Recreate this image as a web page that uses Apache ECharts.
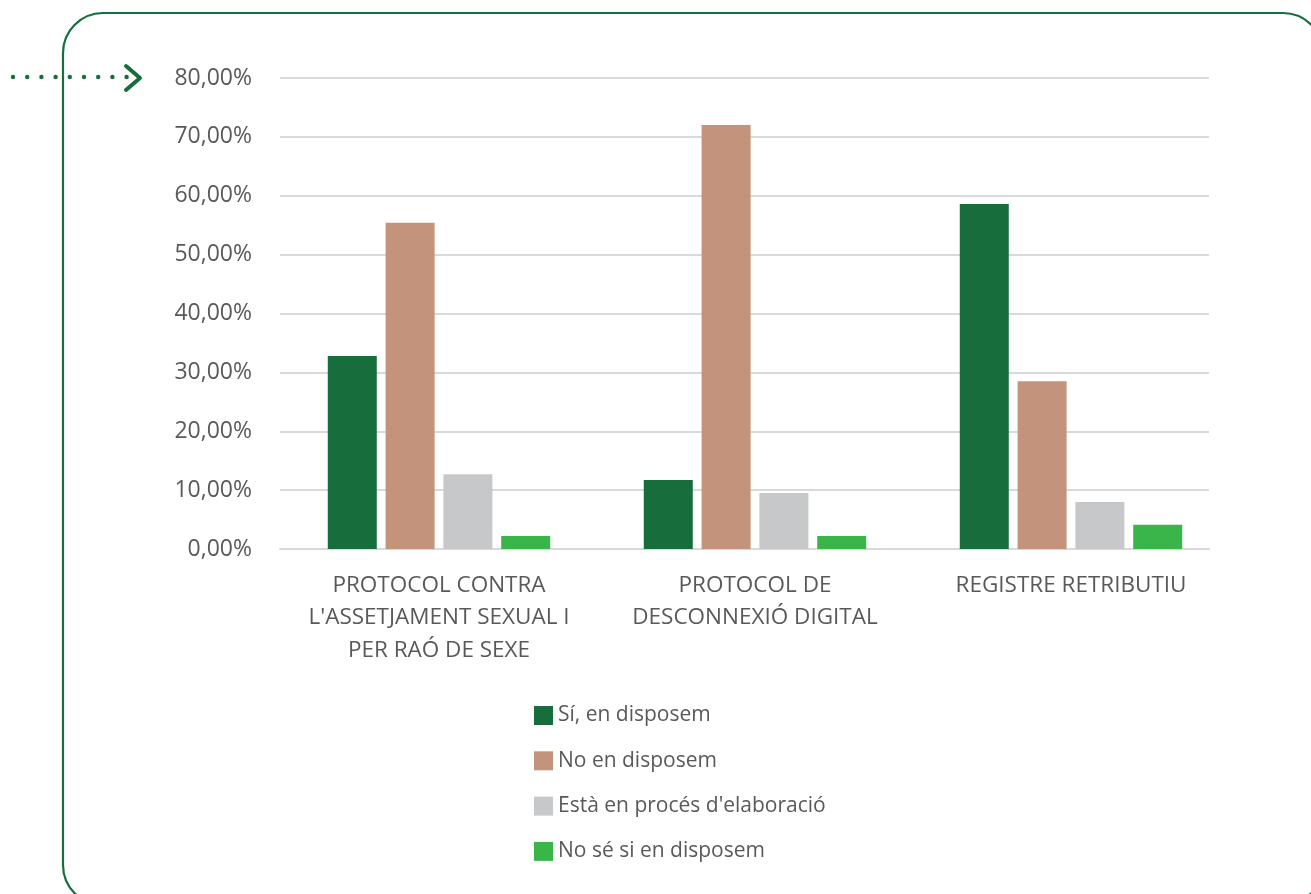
<!DOCTYPE html>
<html><head><meta charset="utf-8">
<script src="https://cdn.jsdelivr.net/npm/echarts@6/dist/echarts.min.js"></script>
<style>html,body{margin:0;padding:0;background:#fff;}#c{width:1311px;height:894px;}</style>
</head><body><div id="c"></div>
<script>
const categories = ["PROTOCOL CONTRA\nL'ASSETJAMENT SEXUAL I\nPER RAÓ DE SEXE", "PROTOCOL DE\nDESCONNEXIÓ DIGITAL", "REGISTRE RETRIBUTIU"];
const seriesNames = ["Sí, en disposem", "No en disposem", "Està en procés d'elaboració", "No sé si en disposem"];
const siValues = [32.8, 11.7, 58.6];
const noValues = [55.4, 72.0, 28.5];
const procesValues = [12.7, 9.5, 8.0];
const nosValues = [2.2, 2.2, 4.1];
const yTicks = {min: 0, max: 80, interval: 10};
const colors = ["#176d3c", "#c4937b", "#c7c8ca", "#3ab54a"];

const chart = echarts.init(document.getElementById('c'), null, {renderer: 'canvas'});
const font = "'Open Sans', sans-serif";
const dots = [];
for (let i = 0; i < 9; i++) {
  dots.push({type: 'circle', shape: {cx: 13 + i * 14.2, cy: 77, r: 2.2}, style: {fill: '#176d3c'}, silent: true});
}
const seriesData = [siValues, noValues, procesValues, nosValues];
chart.setOption({
  animation: false,
  textStyle: {fontFamily: font},
  grid: [
    {left: 281, right: 82, top: 78, bottom: 345},
    {left: 280, right: 102, top: 78, bottom: 345}
  ],
  legend: {
    orient: 'vertical', left: 529, top: 700, itemWidth: 19, itemHeight: 19, itemGap: 24.3,
    icon: 'rect', selectedMode: false,
    textStyle: {color: '#595959', fontSize: 21, fontFamily: font},
    data: seriesNames
  },
  xAxis: [{
    type: 'category', data: categories, gridIndex: 0,
    axisLine: {show: false},
    axisTick: {show: false},
    axisLabel: {color: '#595959', fontSize: 22.5, fontFamily: font, lineHeight: 32.5, margin: 20, interval: 0}
  }, {
    type: 'category', data: [''], gridIndex: 1,
    axisLine: {lineStyle: {color: '#d9d9d9', width: 2}},
    axisTick: {show: false}, axisLabel: {show: false}
  }],
  yAxis: [{
    type: 'value', gridIndex: 0, min: yTicks.min, max: yTicks.max, interval: yTicks.interval,
    axisLine: {show: false}, axisTick: {show: false}, splitLine: {show: false}, axisLabel: {show: false}
  }, {
    type: 'value', gridIndex: 1, min: yTicks.min, max: yTicks.max, interval: yTicks.interval,
    axisLine: {show: false}, axisTick: {show: false},
    splitLine: {lineStyle: {color: '#d9d9d9', width: 2}},
    axisLabel: {color: '#595959', fontSize: 23, fontFamily: font, margin: 28,
      formatter: v => v.toFixed(2).replace('.', ',') + '%'}
  }],
  series: seriesNames.map((n, i) => ({
    name: n, type: 'bar', data: seriesData[i], barWidth: 49, barGap: '18%',
    xAxisIndex: 0, yAxisIndex: 0, z: 3,
    itemStyle: {color: colors[i]}
  })),
  graphic: [
    {type: 'rect', shape: {x: 63, y: 13, width: 1260, height: 892, r: 40},
     style: {fill: 'none', stroke: '#176d3c', lineWidth: 2.2}, silent: true, z: 100},
    ...dots,
    {type: 'polyline', shape: {points: [[126, 66], [140, 78], [126, 90]]},
     style: {stroke: '#176d3c', lineWidth: 4, fill: 'none', lineCap: 'round', lineJoin: 'round'}, silent: true}
  ]
});
</script></body></html>
